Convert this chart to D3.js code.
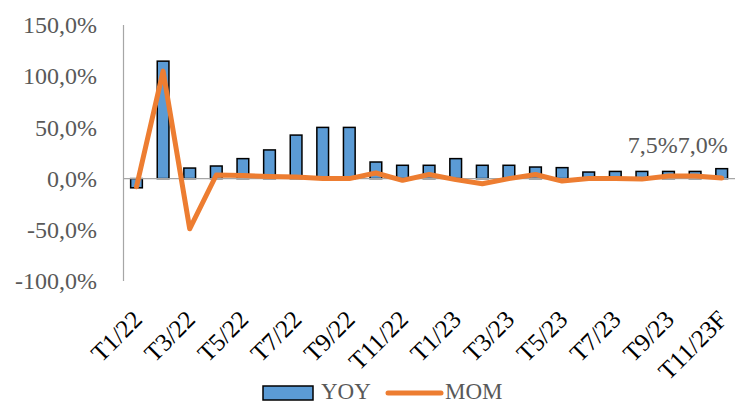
<!DOCTYPE html>
<html>
<head>
<meta charset="utf-8">
<script src="https://cdn.jsdelivr.net/npm/d3@7"></script>
<style>
  body { margin: 0; background: #fff; }
  svg text { font-family: "Liberation Serif", "Times New Roman", serif; }
</style>
</head>
<body>
<div id="chart"></div>
<script>
const months = ["T1/22","T2/22","T3/22","T4/22","T5/22","T6/22","T7/22","T8/22","T9/22","T10/22","T11/22","T12/22",
  "T1/23","T2/23","T3/23","T4/23","T5/23","T6/23","T7/23","T8/23","T9/23","T10/23","T11/23F"];
const yoy = [-9, 114.7, 10.3, 12.3, 19.5, 28, 42.5, 50, 50, 16.2, 13, 13, 19.5, 13, 13, 11.3, 10.7, 6.4, 7, 7, 7, 7, 9.7];
const mom = [-8, 105, -49, 3.5, 3, 2, 1.5, 0, 0, 5.5, -1.7, 4, -1, -5, 0, 4, -2.4, 0, 0, -0.5, 2.5, 2.5, 0.5];
const yTicks = [-100, -50, 0, 50, 100, 150];
const yTickLabels = ["-100,0%", "-50,0%", "0,0%", "50,0%", "100,0%", "150,0%"];
const xTickLabels = ["T1/22","T3/22","T5/22","T7/22","T9/22","T11/22","T1/23","T3/23","T5/23","T7/23","T9/23","T11/23F"];
const dataLabels = ["7,5%", "7,0%"];

const W = 735, H = 403;
const svg = d3.select("#chart").append("svg").attr("width", W).attr("height", H);

const x = d3.scaleBand().domain(months).range([123.2, 735]).paddingInner(0.56).paddingOuter(0.28);
const y = d3.scaleLinear().domain([-100, 150]).range([281, 25]);

// y axis labels
svg.append("g").selectAll("text")
  .data(yTicks)
  .enter().append("text")
    .attr("x", 97)
    .attr("y", d => y(d))
    .attr("dy", "0.34em")
    .attr("text-anchor", "end")
    .attr("font-size", 24)
    .attr("fill", "#595959")
    .text((d, i) => yTickLabels[i]);

// bars
svg.append("g").selectAll("rect")
  .data(yoy)
  .enter().append("rect")
    .attr("x", (d, i) => x(months[i]))
    .attr("width", x.bandwidth())
    .attr("y", d => y(Math.max(0, d)))
    .attr("height", d => Math.abs(y(d) - y(0)))
    .attr("fill", "#5B9BD5")
    .attr("stroke", "#000")
    .attr("stroke-width", 1.5);

// axes lines
svg.append("line")
  .attr("x1", 123.5).attr("x2", 123.5)
  .attr("y1", y(150)).attr("y2", y(-100))
  .attr("stroke", "#A6A6A6").attr("stroke-width", 1.2);
svg.append("line")
  .attr("x1", 123).attr("x2", 735)
  .attr("y1", y(0)).attr("y2", y(0))
  .attr("stroke", "#A6A6A6").attr("stroke-width", 1.2);

// MOM line
const line = d3.line()
  .x((d, i) => x(months[i]) + x.bandwidth() / 2)
  .y(d => y(d));
svg.append("path")
  .datum(mom)
  .attr("d", line)
  .attr("fill", "none")
  .attr("stroke", "#ED7D31")
  .attr("stroke-width", 5)
  .attr("stroke-linejoin", "round")
  .attr("stroke-linecap", "round");

// data labels
const last = months[months.length - 1];
const lbl = svg.append("text")
  .attr("x", x(last) + x.bandwidth() / 2 + 6)
  .attr("y", 153)
  .attr("text-anchor", "end")
  .attr("font-size", 24)
  .attr("fill", "#595959");
dataLabels.forEach(t => lbl.append("tspan").text(t));

// x labels
svg.append("g").selectAll("text")
  .data(xTickLabels)
  .enter().append("text")
    .attr("transform", d => `translate(${x(d) + x.bandwidth() / 2 + 7},${321}) rotate(-45)`)
    .attr("text-anchor", "end")
    .attr("font-size", 25)
    .attr("fill", "#000")
    .text(d => d);

// legend
const lg = svg.append("g");
lg.append("rect")
  .attr("x", 263).attr("y", 386).attr("width", 50).attr("height", 14)
  .attr("fill", "#5B9BD5").attr("stroke", "#000").attr("stroke-width", 1.5);
lg.append("text")
  .attr("x", 321).attr("y", 399)
  .attr("font-size", 23).attr("fill", "#595959")
  .text("YOY");
lg.append("line")
  .attr("x1", 388).attr("x2", 441).attr("y1", 393).attr("y2", 393)
  .attr("stroke", "#ED7D31").attr("stroke-width", 5).attr("stroke-linecap", "round");
lg.append("text")
  .attr("x", 445).attr("y", 399)
  .attr("font-size", 23).attr("fill", "#595959")
  .text("MOM");
</script>
</body>
</html>
